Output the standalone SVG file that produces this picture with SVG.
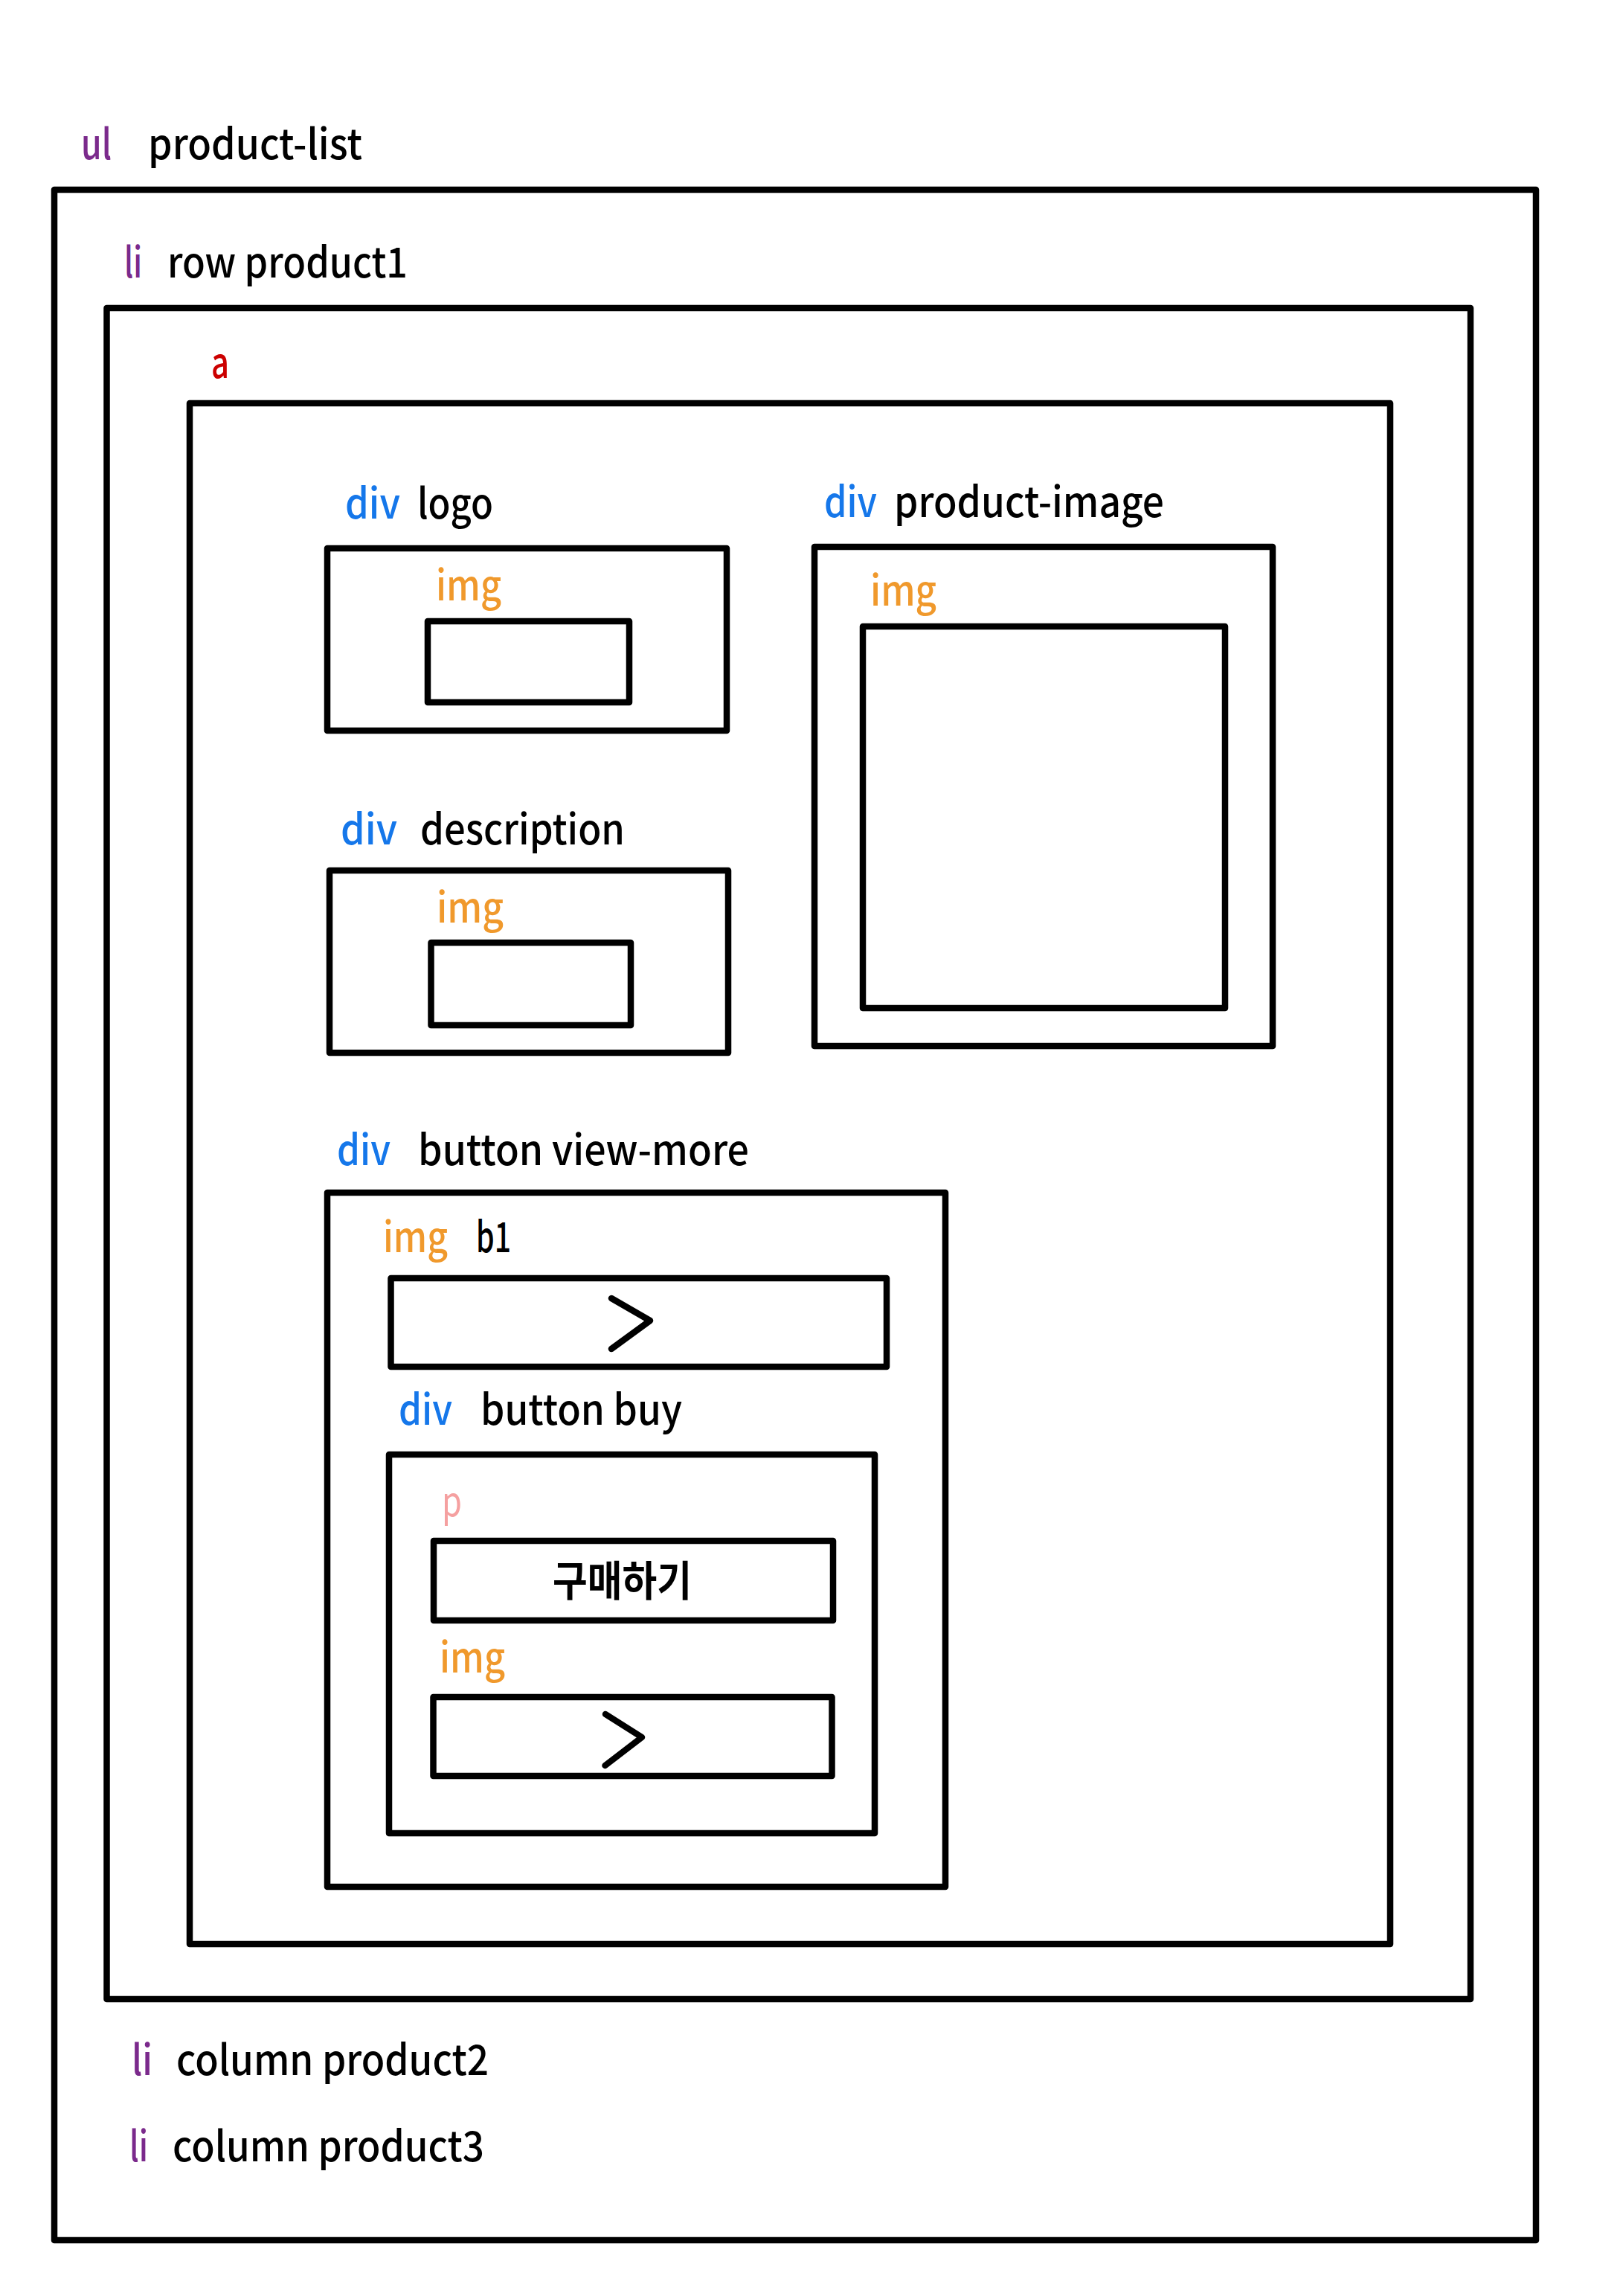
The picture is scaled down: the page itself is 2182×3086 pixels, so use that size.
<svg xmlns="http://www.w3.org/2000/svg" width="2182" height="3086" viewBox="0 0 2182 3086">
<style>
.box{fill:none;stroke:#000;stroke-width:8.5;stroke-linejoin:round}
.chev{fill:none;stroke:#000;stroke-width:8.5;stroke-linecap:round;stroke-linejoin:round}
text{font-family:"Noto Sans CJK KR","Noto Sans",sans-serif;font-size:56px;font-weight:500;fill:#000}
.ul,.li{fill:#7b2a8c}
.a{fill:#cc0000}
.div{fill:#1577ea}
.img{fill:#f0992c}
.p{fill:#f5a0a0;font-weight:400}
.kr{font-size:56px;font-weight:700}
</style>
<rect x="0" y="0" width="2182" height="3086" fill="#fff"/>
<g id="ul-product-list">
<rect class="box" x="73" y="255" width="1992" height="2756"/>
<text class="ul" x="109" y="214" textLength="41" lengthAdjust="spacingAndGlyphs">ul</text>
<text x="199" y="214" textLength="288" lengthAdjust="spacingAndGlyphs">product-list</text>
</g>
<g id="li-row-product1">
<rect class="box" x="143.5" y="414" width="1833.5" height="2273"/>
<text class="li" x="167" y="373" textLength="24" lengthAdjust="spacingAndGlyphs">li</text>
<text x="225" y="373" textLength="323" lengthAdjust="spacingAndGlyphs">row product1</text>
</g>
<g id="a">
<rect class="box" x="255" y="542" width="1614" height="2071"/>
<text class="a" x="284" y="508" textLength="24" lengthAdjust="spacingAndGlyphs">a</text>
</g>
<g id="div-logo">
<rect class="box" x="440" y="737" width="537" height="245"/>
<text class="div" x="464" y="697" textLength="74" lengthAdjust="spacingAndGlyphs">div</text>
<text x="561" y="697" textLength="102" lengthAdjust="spacingAndGlyphs">logo</text>
</g>
<g id="logo-img">
<rect class="box" x="575" y="835" width="271" height="109"/>
<text class="img" x="586" y="807" textLength="88" lengthAdjust="spacingAndGlyphs">img</text>
</g>
<g id="div-product-image">
<rect class="box" x="1095" y="735" width="616" height="671"/>
<text class="div" x="1108" y="695" textLength="71" lengthAdjust="spacingAndGlyphs">div</text>
<text x="1202" y="695" textLength="363" lengthAdjust="spacingAndGlyphs">product-image</text>
</g>
<g id="product-image-img">
<rect class="box" x="1160" y="842" width="487" height="513"/>
<text class="img" x="1170" y="814" textLength="89" lengthAdjust="spacingAndGlyphs">img</text>
</g>
<g id="div-description">
<rect class="box" x="443" y="1170" width="536" height="245"/>
<text class="div" x="458" y="1135" textLength="76" lengthAdjust="spacingAndGlyphs">div</text>
<text x="565" y="1135" textLength="275" lengthAdjust="spacingAndGlyphs">description</text>
</g>
<g id="description-img">
<rect class="box" x="579.5" y="1267" width="268.5" height="111"/>
<text class="img" x="587" y="1240" textLength="90" lengthAdjust="spacingAndGlyphs">img</text>
</g>
<g id="div-button-view-more">
<rect class="box" x="440" y="1603" width="831" height="933"/>
<text class="div" x="453" y="1566" textLength="72" lengthAdjust="spacingAndGlyphs">div</text>
<text x="562" y="1566" textLength="445" lengthAdjust="spacingAndGlyphs">button view-more</text>
</g>
<g id="img-b1">
<rect class="box" x="525.5" y="1718" width="666.5" height="119"/>
<text class="img" x="515" y="1683" textLength="87" lengthAdjust="spacingAndGlyphs">img</text>
<text x="640" y="1683" textLength="47" lengthAdjust="spacingAndGlyphs">b1</text>
<polyline class="chev" points="822,1745 874,1775 822,1813"/>
</g>
<g id="div-button-buy">
<rect class="box" x="523" y="1955" width="653" height="509"/>
<text class="div" x="536" y="1915" textLength="72" lengthAdjust="spacingAndGlyphs">div</text>
<text x="646" y="1915" textLength="271" lengthAdjust="spacingAndGlyphs">button buy</text>
</g>
<g id="p-buy">
<rect class="box" x="583" y="2071" width="537" height="107"/>
<text class="p" x="594" y="2038" textLength="27" lengthAdjust="spacingAndGlyphs">p</text>
<text class="kr" x="743" y="2145" textLength="187" lengthAdjust="spacingAndGlyphs">구매하기</text>
</g>
<g id="buy-img">
<rect class="box" x="582.5" y="2281" width="536" height="106"/>
<text class="img" x="591" y="2248" textLength="88" lengthAdjust="spacingAndGlyphs">img</text>
<polyline class="chev" points="814,2304 863,2335 813.5,2373"/>
</g>
<g id="li-column-product2">
<text class="li" x="177" y="2789" textLength="28" lengthAdjust="spacingAndGlyphs">li</text>
<text x="237" y="2789" textLength="420" lengthAdjust="spacingAndGlyphs">column product2</text>
</g>
<g id="li-column-product3">
<text class="li" x="174" y="2905" textLength="25" lengthAdjust="spacingAndGlyphs">li</text>
<text x="232" y="2905" textLength="419" lengthAdjust="spacingAndGlyphs">column product3</text>
</g>
<g id="connectors"></g>
</svg>
